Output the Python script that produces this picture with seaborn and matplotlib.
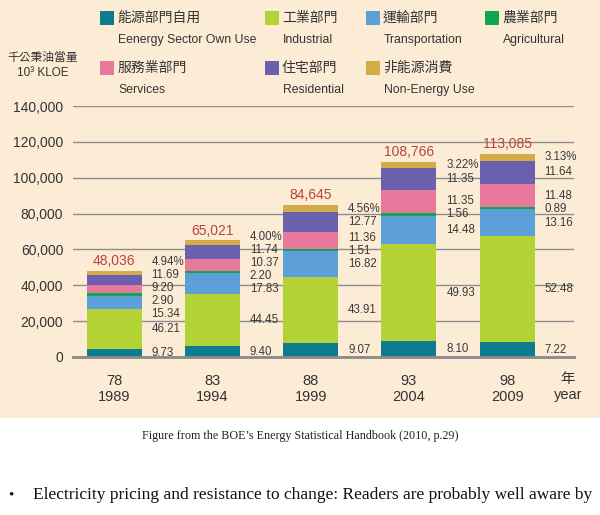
import matplotlib
matplotlib.use("Agg")
import matplotlib.pyplot as plt
from matplotlib.patches import Rectangle
import numpy as np
import pandas as pd
import seaborn as sns

# ---------------- data ----------------
roc_years = ["78", "83", "88", "93", "98"]
ad_years = ["1989", "1994", "1999", "2004", "2009"]
totals = [48036, 65021, 84645, 108766, 113085]

sectors_en = ["Eenergy Sector Own Use", "Industrial", "Transportation", "Agricultural",
              "Services", "Residential", "Non-Energy Use"]
sectors_zh = ["能源部門自用", "工業部門", "運輸部門", "農業部門",
              "服務業部門", "住宅部門", "非能源消費"]
# percentage shares, bottom -> top
own_use = [9.73, 9.40, 9.07, 8.10, 7.22]
industrial = [46.21, 44.45, 43.91, 49.93, 52.48]
transport = [15.34, 17.83, 16.82, 14.48, 13.16]
agricultural = [2.90, 2.20, 1.51, 1.56, 0.89]
services = [9.20, 10.37, 11.36, 11.35, 11.48]
residential = [11.69, 11.74, 12.77, 11.35, 11.64]
non_energy = [4.94, 4.00, 4.56, 3.22, 3.13]
yticks = [0, 20000, 40000, 60000, 80000, 100000, 120000, 140000]

shares = [own_use, industrial, transport, agricultural, services, residential, non_energy]
colors = ["#0f7b8e", "#b3d235", "#5d9fd8", "#10a650", "#e9789d", "#6a60ad", "#d3ab48"]

BEIGE = "#fcecd6"
sns.set_theme(style="white")
plt.rcParams["font.family"] = ["Liberation Sans", "Noto Sans CJK TC", "DejaVu Sans"]
SANS = ["Liberation Sans", "DejaVu Sans"]

fig = plt.figure(figsize=(6.0, 5.15), dpi=100, facecolor="white")
W, H = 600.0, 515.0
fig.patches.append(Rectangle((0, 1 - 418 / H), 1, 418 / H, transform=fig.transFigure,
                             facecolor=BEIGE, edgecolor="none", zorder=-10))

ax = fig.add_axes([73 / W, 1 - 357 / H, (574 - 73) / W, (357 - 106) / H])
ax.set_facecolor("none")

# stacked values
seg = np.array([[t * s / 100.0 for t, s in zip(totals, sh)] for sh in shares])
cum = np.cumsum(seg, axis=0)

df_rows = []
for k in range(len(shares)):
    for i, y in enumerate(ad_years):
        df_rows.append({"year": y, "sector": sectors_en[k], "cum": cum[k, i]})
df = pd.DataFrame(df_rows)

BW = 0.56
for k in range(len(shares) - 1, -1, -1):
    sub = df[df["sector"] == sectors_en[k]]
    sns.barplot(data=sub, x="year", y="cum", order=ad_years, color=colors[k],
                saturation=1, width=BW, ax=ax, zorder=3, linewidth=0, errorbar=None)

ax.set_xlim(-0.42, 4.68)
ax.set_ylim(0, 140000)
ax.set_yticks(yticks)
ax.set_yticklabels([f"{v:,}" for v in yticks], fontsize=10, color="#333333")
ax.yaxis.grid(True, color="#8c8c8c", linewidth=1.0, zorder=0)
ax.set_axisbelow(True)
for s in ["top", "right", "left"]:
    ax.spines[s].set_visible(False)
ax.spines["bottom"].set_color("#8a8a8a")
ax.spines["bottom"].set_linewidth(2.0)
ax.spines["bottom"].set_zorder(5)
ax.tick_params(axis="y", length=0, pad=7)
ax.tick_params(axis="x", length=0, pad=12)
ax.set_xticks(range(len(ad_years)))
ax.set_xticklabels([f"{r}\n{a}" for r, a in zip(roc_years, ad_years)],
                   fontsize=10.5, color="#333333", linespacing=1.2)
ax.set_xlabel("")
ax.set_ylabel("")

# percentage labels with de-overlap
units_per_px = 140000 / (357 - 106)
gap = 13.0 * units_per_px
for i in range(len(ad_years)):
    centers = list(cum[:, i] - seg[:, i] / 2.0)
    for _ in range(400):
        for j in range(1, len(centers)):
            d = centers[j] - centers[j - 1]
            if d < gap:
                sh = (gap - d) / 2.0
                centers[j] += sh
                centers[j - 1] -= sh
        centers[0] = max(centers[0], 2300)
    for k in range(len(shares)):
        txt = f"{shares[k][i]:.2f}" + ("%" if k == len(shares) - 1 else "")
        ax.text(i + BW / 2 + 0.10, centers[k], txt, ha="left", va="center",
                fontsize=8.3, family=SANS, color="#3a3a3a", zorder=6)
    ax.annotate(f"{totals[i]:,}", (i, totals[i]), xytext=(0, 2), textcoords="offset points",
                ha="center", va="bottom", fontsize=10, color="#b8433a", zorder=6)

# year unit label
fig.text(568 / W, 1 - 372 / H, "年\nyear", ha="center", va="top", fontsize=10.5,
         color="#333333", linespacing=1.2,
         family=["Liberation Sans", "Noto Sans CJK TC"])

# y unit label
fig.text(43 / W, 1 - 57 / H, "千公秉油當量", ha="center", va="center", fontsize=8.5,
         color="#333333", family=["Noto Sans CJK TC", "DejaVu Sans"])
fig.text(43 / W, 1 - 73 / H, "10³ KLOE", ha="center", va="center",
         fontsize=8.5, family=SANS, color="#333333")

# legend
col_x = [100, 265, 366, 485]
row_y = [18, 68]
pos = [(0, 0), (0, 1), (0, 2), (0, 3), (1, 0), (1, 1), (1, 2)]
for k, (r, c) in enumerate(pos):
    x0 = col_x[c]
    yc = row_y[r]
    fig.patches.append(Rectangle((x0 / W, 1 - (yc + 7) / H), 14 / W, 14 / H,
                                 transform=fig.transFigure, facecolor=colors[k],
                                 edgecolor="none", zorder=2))
    fig.text((x0 + 17) / W, 1 - yc / H, sectors_zh[k], ha="left", va="center",
             fontsize=10, color="#333333", family=["Noto Sans CJK TC", "DejaVu Sans"])
    fig.text((x0 + 18) / W, 1 - (yc + 22) / H, sectors_en[k], ha="left", va="center",
             fontsize=8.8, family=SANS, color="#333333")

# caption and following text
fig.text(300 / W, 1 - 436 / H, "Figure from the BOE’s Energy Statistical Handbook (2010, p.29)",
         ha="center", va="center", fontsize=8.7, color="#222222",
         family=["Liberation Serif", "DejaVu Serif"])
fig.text(8 / W, 1 - 495 / H, "•", ha="left", va="center", fontsize=11, color="#111111",
         family=["Liberation Serif", "DejaVu Serif"])
fig.text(33 / W, 1 - 495 / H,
         "Electricity pricing and resistance to change: Readers are probably well aware by",
         ha="left", va="center", fontsize=12.5, color="#111111",
         family=["Liberation Serif", "DejaVu Serif"])

fig.savefig("out.png", dpi=100, facecolor="white")
